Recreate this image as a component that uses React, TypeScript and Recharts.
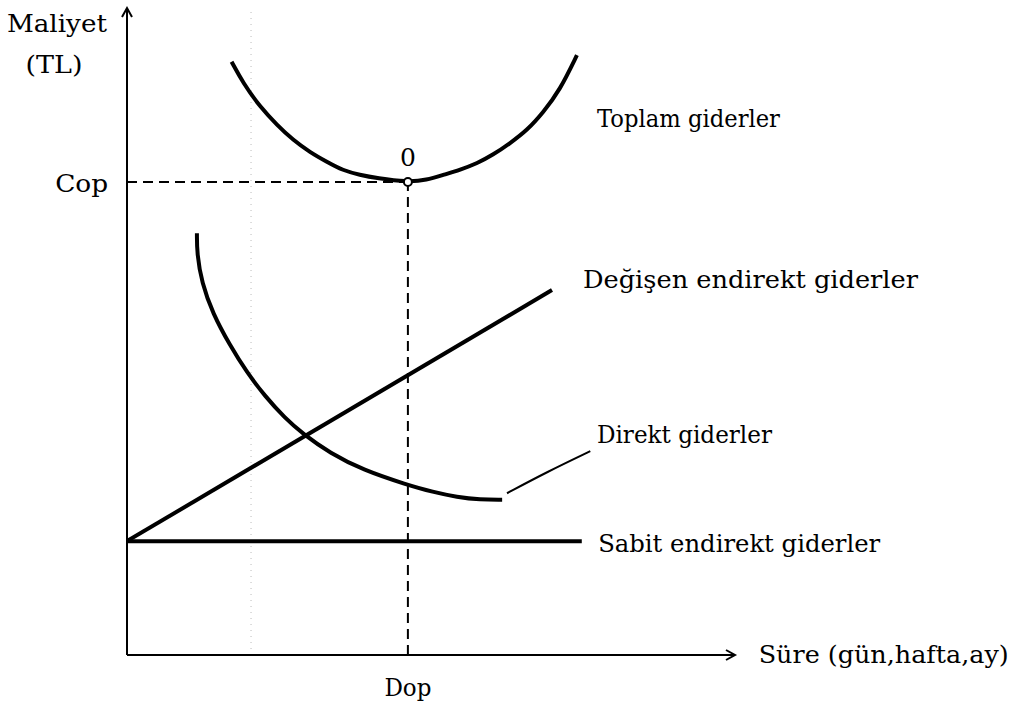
import React from 'react';
import { ComposedChart, Line, XAxis, YAxis, ReferenceDot, ReferenceLine } from 'recharts';

// toplam giderler (U curve)
const toplam = [
  { x: 17.2, y: 91.7 }, { x: 19.1, y: 88.4 }, { x: 21.9, y: 84.7 }, { x: 24.7, y: 81.9 },
  { x: 27.3, y: 79.6 }, { x: 30.1, y: 77.7 }, { x: 32.9, y: 76.2 }, { x: 35.5, y: 74.9 },
  { x: 38.3, y: 74.2 }, { x: 41.1, y: 73.7 }, { x: 46.1, y: 73.1 }, { x: 49.3, y: 73.4 },
  { x: 52.0, y: 74.2 }, { x: 54.8, y: 75.0 }, { x: 57.6, y: 76.0 }, { x: 60.2, y: 77.3 },
  { x: 63.0, y: 79.1 }, { x: 65.8, y: 81.1 }, { x: 68.4, y: 83.8 }, { x: 71.2, y: 87.3 },
  { x: 74.0, y: 92.7 },
];

// direkt giderler
const direkt = [
  { x: 11.5, y: 65.2 }, { x: 11.5, y: 62.1 }, { x: 12.3, y: 57.5 }, { x: 14.1, y: 52.8 },
  { x: 16.9, y: 47.9 }, { x: 19.7, y: 43.7 }, { x: 22.7, y: 40.0 }, { x: 26.0, y: 36.6 },
  { x: 28.9, y: 34.2 }, { x: 33.4, y: 31.2 }, { x: 38.8, y: 28.6 }, { x: 46.1, y: 26.3 },
  { x: 50.3, y: 25.2 }, { x: 54.3, y: 24.4 }, { x: 58.1, y: 24.0 }, { x: 61.7, y: 24.0 },
];

const degisen = [{ x: 0, y: 17.6 }, { x: 69.9, y: 56.4 }];
const sabit = [{ x: 0, y: 17.6 }, { x: 74.8, y: 17.6 }];
const leader = [{ x: 62.5, y: 25.0 }, { x: 69.1, y: 28.3 }, { x: 76.2, y: 31.5 }];

// optimum point
const dop = 46.2;
const cop = 73.1;
const copLine = [{ x: 0, y: cop }, { x: dop, y: cop }];
const dopLine = [{ x: dop, y: 0 }, { x: dop, y: cop }];

const labels = [
  { text: 'Maliyet', x: -3.3, y: 96.3, anchor: 'end', len: 100 },
  { text: '(TL)', x: -12.0, y: 90.0, anchor: 'middle', len: 57 },
  { text: 'Cop', x: -3.1, y: 71.6, anchor: 'end', len: 53 },
  { text: '0', x: 46.2, y: 75.6, anchor: 'middle', len: 0 },
  { text: 'Dop', x: 46.2, y: -6.3, anchor: 'middle', len: 47 },
  { text: 'Toplam giderler', x: 77.3, y: 81.6, anchor: 'start', len: 183 },
  { text: 'Değişen endirekt giderler', x: 75.0, y: 56.7, anchor: 'start', len: 335 },
  { text: 'Direkt giderler', x: 77.3, y: 32.8, anchor: 'start', len: 175 },
  { text: 'Sabit endirekt giderler', x: 77.5, y: 15.9, anchor: 'start', len: 282 },
  { text: 'Süre (gün,hafta,ay)', x: 103.9, y: -1.2, anchor: 'start', len: 250 },
];

const font = "'DejaVu Serif', 'Liberation Serif', serif";

export default function App() {
  return (
    <div style={{ position: 'absolute', left: 0, top: 0, background: '#fff' }}>
      <ComposedChart width={1016} height={704} margin={{ top: 8, right: 281, bottom: 49, left: 127 }}>
        <XAxis type="number" dataKey="x" domain={[0, 100]} hide allowDataOverflow />
        <YAxis type="number" dataKey="y" domain={[0, 100]} hide allowDataOverflow />
        <ReferenceLine x={20.4} stroke="#bbb" strokeDasharray="1 5" />
        <ReferenceLine x={0} stroke="#000" strokeWidth={2} />
        <ReferenceLine y={0} stroke="#000" strokeWidth={2} />
        <Line data={copLine} dataKey="y" stroke="#000" strokeWidth={2} strokeDasharray="10 6" dot={false} isAnimationActive={false} />
        <Line data={dopLine} dataKey="y" stroke="#000" strokeWidth={2} strokeDasharray="10 6" dot={false} isAnimationActive={false} />
        <Line data={sabit} dataKey="y" type="linear" stroke="#000" strokeWidth={4} dot={false} isAnimationActive={false} />
        <Line data={degisen} dataKey="y" type="linear" stroke="#000" strokeWidth={4} dot={false} isAnimationActive={false} />
        <Line data={direkt} dataKey="y" type="basis" stroke="#000" strokeWidth={4} dot={false} isAnimationActive={false} />
        <Line data={toplam} dataKey="y" type="basis" stroke="#000" strokeWidth={4} dot={false} isAnimationActive={false} />
        <Line data={leader} dataKey="y" type="basis" stroke="#000" strokeWidth={2} dot={false} isAnimationActive={false} />
        <ReferenceDot x={dop} y={cop} r={4} fill="#fff" stroke="#000" strokeWidth={2} />
        <ReferenceDot x={0} y={100} r={0} ifOverflow="visible"
          shape={(p: any) => <path d={`M${p.cx - 5},${p.cy + 9} L${p.cx},${p.cy} L${p.cx + 5},${p.cy + 9}`} fill="none" stroke="#000" strokeWidth={2} />} />
        <ReferenceDot x={100} y={0} r={0} ifOverflow="visible"
          shape={(p: any) => <path d={`M${p.cx - 9},${p.cy - 5} L${p.cx},${p.cy} L${p.cx - 9},${p.cy + 5}`} fill="none" stroke="#000" strokeWidth={2} />} />
        {labels.map((l) => (
          <ReferenceDot key={l.text} x={l.x} y={l.y} r={0} ifOverflow="visible"
            shape={(p: any) => (
              <text x={p.cx} y={p.cy} textAnchor={l.anchor} style={{ fontFamily: font, fontSize: 25 }} fill="#000"
                {...(l.len ? { textLength: l.len, lengthAdjust: 'spacingAndGlyphs' } : {})}>
                {l.text}
              </text>
            )} />
        ))}
      </ComposedChart>
    </div>
  );
}
